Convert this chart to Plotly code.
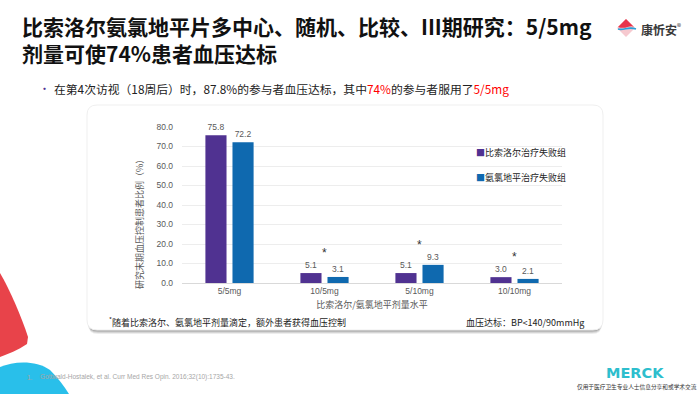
import plotly.graph_objects as go

# ---------------- data ----------------
categories = ["5/5mg", "10/5mg", "5/10mg", "10/10mg"]
bisoprolol_fail = [75.8, 5.1, 5.1, 3.0]
amlodipine_fail = [72.2, 3.1, 9.3, 2.1]
significance = ["", "*", "*", "*"]
series_names = ["比索洛尔治疗失败组", "氨氯地平治疗失败组"]
y_ticks = [0, 10, 20, 30, 40, 50, 60, 70, 80]

# ---------------- styling ----------------
W, H = 700, 394
PURPLE = "#503291"
BLUE = "#0F69AF"
GRAY_TXT = "#595959"
LATIN = "Arial, 'Liberation Sans', 'Noto Sans CJK SC', sans-serif"
CJK = "'Noto Sans CJK SC', sans-serif"


def px(x):
    return x / W


def py(y):
    return 1 - y / H


def rounded_rect(x0, y0, x1, y1, r):
    pts = [
        f"M{px(x0 + r)},{py(y0)}",
        f"L{px(x1 - r)},{py(y0)}",
        f"Q{px(x1)},{py(y0)} {px(x1)},{py(y0 + r)}",
        f"L{px(x1)},{py(y1 - r)}",
        f"Q{px(x1)},{py(y1)} {px(x1 - r)},{py(y1)}",
        f"L{px(x0 + r)},{py(y1)}",
        f"Q{px(x0)},{py(y1)} {px(x0)},{py(y1 - r)}",
        f"L{px(x0)},{py(y0 + r)}",
        f"Q{px(x0)},{py(y0)} {px(x0 + r)},{py(y0)}",
        "Z",
    ]
    return " ".join(pts)


def path_px(cmds):
    out = []
    for c in cmds:
        if isinstance(c, str):
            out.append(c)
        else:
            out.append(f"{px(c[0])},{py(c[1])}")
    return " ".join(out)


fig = go.Figure()

for name, vals, col in [(series_names[0], bisoprolol_fail, PURPLE),
                        (series_names[1], amlodipine_fail, BLUE)]:
    fig.add_trace(go.Bar(
        x=categories, y=vals, name=name, marker_color=col,
        marker_line_width=0, showlegend=False,
        text=vals, texttemplate="%{y:.1f}", textposition="outside",
        textfont=dict(size=8.5, color=GRAY_TXT, family=LATIN),
        cliponaxis=False, hoverinfo="skip",
    ))

shapes = []
# panel shadow + panel
for off, op in [(4, 0.10), (3, 0.15), (2, 0.20), (1, 0.25)]:
    shapes.append(dict(type="path", xref="paper", yref="paper",
                       path=rounded_rect(88, 108 + off, 602, 330 + off, 10),
                       fillcolor="#505050", opacity=op, line_width=0, layer="below"))
shapes.append(dict(type="path", xref="paper", yref="paper",
                   path=rounded_rect(87, 105, 603, 330, 10),
                   fillcolor="white", line=dict(color="#EFEFEF", width=1), layer="below"))
# decorative shapes bottom-left
shapes.append(dict(type="path", xref="paper", yref="paper",
                   path=path_px(["M", (0, 273), "C", (10, 290), (22, 318), (28, 337),
                                 "L", (27, 344), "C", (18, 350), (8, 354), (0, 357), "Z"]),
                   fillcolor="#E8434A", line_width=0, layer="below"))
shapes.append(dict(type="path", xref="paper", yref="paper",
                   path=path_px(["M", (0, 367), "C", (14, 361), (36, 360), (50, 370),
                                 "C", (58, 378), (64, 386), (69, 394), "L", (0, 394), "Z"]),
                   fillcolor="#29BFEA", line_width=0, layer="below"))
# top-right logo icon
shapes.append(dict(type="path", xref="paper", yref="paper",
                   path=path_px(["M", (626, 19), "L", (635, 28), "L", (626, 37), "L", (617, 28), "Z"]),
                   fillcolor="#F6C9CF", line_width=0))
shapes.append(dict(type="path", xref="paper", yref="paper",
                   path=path_px(["M", (626, 19), "L", (634, 27), "C", (630, 24), (626, 30), (618, 27), "Z"]),
                   fillcolor="#E8344A", line_width=0))
shapes.append(dict(type="path", xref="paper", yref="paper",
                   path=path_px(["M", (618, 29), "C", (624, 31), (628, 26), (636, 29)]),
                   line=dict(color="#2A9FD8", width=1.6)))


def ann(text, x, y, size, color, family=CJK, xanchor="left", **kw):
    return dict(text=text, x=px(x), y=py(y), xref="paper", yref="paper",
                xanchor=xanchor, yanchor="middle", showarrow=False,
                font=dict(size=size, color=color, family=family), **kw)


annotations = []
# title (two lines)
annotations.append(ann("<b>比索洛尔氨氯地平片多中心、随机、比较、III期研究：5/5mg<br>"
                       "剂量可使74%患者血压达标</b>", 20, 39.5, 21, "#111111", align="left"))
# logo text
annotations.append(ann("<b>康忻安</b><sup>®</sup>", 639, 29, 12, "#3A3A3A"))
# bullet
annotations.append(ann("•", 45, 88, 11, PURPLE, xanchor="center"))
annotations.append(ann(
    "在第4次访视（18周后）时，87.8%的参与者血压达标，其中"
    "<span style='color:#FF0000'>74%</span>的参与者服用了"
    "<span style='color:#FF0000'>5/5mg</span>", 52, 88, 11.8, "#222222"))
# y-axis title
annotations.append(ann("研究末期血压控制患者比例（%）", 139, 222, 9, GRAY_TXT,
                       xanchor="center", textangle=-90))
# legend (square marker + series name)
for i, (name, col) in enumerate(zip(series_names, [PURPLE, BLUE])):
    annotations.append(ann(f"<span style='color:{col}'>■</span>{name}", 474, 152 + 25 * i,
                           9, "#222222"))
# significance marks
for cat, a, b, s in zip(categories, bisoprolol_fail, amlodipine_fail, significance):
    if s:
        annotations.append(dict(text=s, x=cat, y=max(a, b), xref="x", yref="y",
                                yshift=20, showarrow=False,
                                font=dict(size=12, color="#333333", family=LATIN)))
# footnotes in panel
annotations.append(ann("<sup>*</sup>随着比索洛尔、氨氯地平剂量滴定，额外患者获得血压控制",
                       107, 322, 9, "#1A1A1A"))
annotations.append(ann("血压达标：BP&lt;140/90mmHg", 586, 322, 9, "#1A1A1A", xanchor="right"))
# reference
annotations.append(ann("1.", 25, 377, 6.5, "#A6A6A6", family=LATIN))
annotations.append(ann("Gottwald-Hostalek, et al. Curr Med Res Opin. 2016;32(10):1735-43.",
                       38, 377, 6.5, "#A6A6A6", family=LATIN))
# Merck logo + disclaimer
annotations.append(ann("<b>MERCK</b>", 635, 373, 14.5, "#2DBECD",
                       family="'DejaVu Sans', sans-serif", xanchor="center"))
annotations.append(ann("仅用于医疗卫生专业人士信息分享和或学术交流", 637, 386, 5.7, "#333333",
                       xanchor="center"))

fig.update_layout(
    width=W, height=H, margin=dict(l=0, r=0, t=0, b=0, pad=0, autoexpand=False),
    paper_bgcolor="white", plot_bgcolor="rgba(0,0,0,0)",
    barmode="group", bargap=0.43, bargroupgap=0.22,
    shapes=shapes, annotations=annotations,
    font=dict(family=LATIN, color=GRAY_TXT),
    showlegend=False,
    xaxis=dict(domain=[px(182), px(562)], showgrid=False, showline=True,
               linecolor="#D9D9D9", linewidth=1, ticks="", automargin=False,
               tickfont=dict(size=8.5, color=GRAY_TXT, family=LATIN),
               title=dict(text="比索洛尔/氨氯地平剂量水平", standoff=6,
                          font=dict(size=9, color=GRAY_TXT, family=CJK))),
    yaxis=dict(domain=[py(283), py(127)], range=[0, 80], tickvals=y_ticks,
               tickformat=".1f", showgrid=True, gridcolor="#EDEDED", gridwidth=1,
               zeroline=False, showline=False, ticklabelstandoff=8, automargin=False,
               tickfont=dict(size=8.5, color=GRAY_TXT, family=LATIN)),
)

fig.write_html("out.html", config={"displayModeBar": False},
               post_script="document.body.style.margin='0';document.body.style.overflow='hidden';")
